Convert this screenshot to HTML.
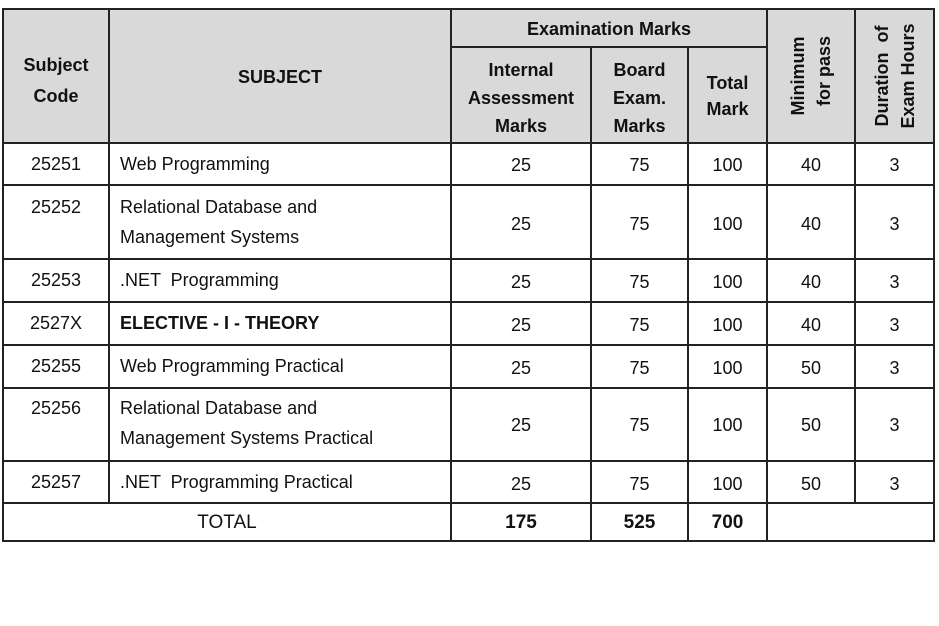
<!DOCTYPE html>
<html><head><meta charset="utf-8"><style>
body{margin:0;background:#fff;width:939px;height:626px;position:relative;overflow:hidden;font-family:"Liberation Sans",Arial,sans-serif;color:#111}
.t{position:absolute;text-align:center;font-size:18px;line-height:22px}
.b{font-weight:bold}
.l{text-align:left}
.h{position:absolute;background:#222}
.r{position:absolute;width:120px;height:56px;line-height:26px;text-align:center;font-size:18px;font-weight:bold;white-space:nowrap;transform:rotate(-90deg);padding-top:2px;box-sizing:border-box}
</style></head><body>
<div style="position:absolute;left:3px;top:9px;width:931px;height:134px;background:#d9d9d9"></div>
<div class="h" style="left:3px;top:8px;width:932px;height:2px"></div>
<div class="h" style="left:451px;top:46px;width:317px;height:2px"></div>
<div class="h" style="left:3px;top:142px;width:932px;height:2px"></div>
<div class="h" style="left:3px;top:184px;width:932px;height:2px"></div>
<div class="h" style="left:3px;top:258px;width:932px;height:2px"></div>
<div class="h" style="left:3px;top:301px;width:932px;height:2px"></div>
<div class="h" style="left:3px;top:344px;width:932px;height:2px"></div>
<div class="h" style="left:3px;top:387px;width:932px;height:2px"></div>
<div class="h" style="left:3px;top:460px;width:932px;height:2px"></div>
<div class="h" style="left:3px;top:502px;width:932px;height:2px"></div>
<div class="h" style="left:3px;top:540px;width:932px;height:2px"></div>
<div class="h" style="left:2px;top:8px;width:2px;height:534px"></div>
<div class="h" style="left:108px;top:8px;width:2px;height:495px"></div>
<div class="h" style="left:450px;top:8px;width:2px;height:534px"></div>
<div class="h" style="left:590px;top:46px;width:2px;height:496px"></div>
<div class="h" style="left:687px;top:46px;width:2px;height:496px"></div>
<div class="h" style="left:766px;top:8px;width:2px;height:534px"></div>
<div class="h" style="left:854px;top:8px;width:2px;height:495px"></div>
<div class="h" style="left:933px;top:8px;width:2px;height:534px"></div>
<div class="t b" style="left:3px;top:50px;width:106px;line-height:31px">Subject<br>Code</div>
<div class="t b" style="left:109px;top:66px;width:342px">SUBJECT</div>
<div class="t b" style="left:451px;top:18px;width:316px">Examination Marks</div>
<div class="t b" style="left:451px;top:56px;width:140px;line-height:28px">Internal<br>Assessment<br>Marks</div>
<div class="t b" style="left:591px;top:56px;width:97px;line-height:28px">Board<br>Exam.<br>Marks</div>
<div class="t b" style="left:688px;top:70px;width:79px;line-height:26px">Total<br>Mark</div>
<div class="r" style="left:751px;top:48px">Minimum<br>&nbsp;&nbsp;for pass</div>
<div class="r" style="left:835px;top:48px">Duration &nbsp;of<br>Exam Hours</div>
<div class="t" style="left:3px;top:153px;width:106px">25251</div>
<div class="t l" style="left:120px;top:153px">Web Programming</div>
<div class="t" style="left:3px;top:196px;width:106px">25252</div>
<div class="t l" style="left:120px;top:192px;line-height:30px">Relational Database and<br>Management Systems</div>
<div class="t" style="left:3px;top:269px;width:106px">25253</div>
<div class="t l" style="left:120px;top:269px">.NET &nbsp;Programming</div>
<div class="t" style="left:3px;top:312px;width:106px">2527X</div>
<div class="t l b" style="left:120px;top:312px">ELECTIVE - I - THEORY</div>
<div class="t" style="left:3px;top:355px;width:106px">25255</div>
<div class="t l" style="left:120px;top:355px">Web Programming Practical</div>
<div class="t" style="left:3px;top:397px;width:106px">25256</div>
<div class="t l" style="left:120px;top:393px;line-height:30px">Relational Database and<br>Management Systems Practical</div>
<div class="t" style="left:3px;top:471px;width:106px">25257</div>
<div class="t l" style="left:120px;top:471px">.NET &nbsp;Programming Practical</div>

<div class="t" style="left:451px;top:154px;width:140px">25</div><div class="t" style="left:591px;top:154px;width:97px">75</div><div class="t" style="left:688px;top:154px;width:79px">100</div><div class="t" style="left:767px;top:154px;width:88px">40</div><div class="t" style="left:855px;top:154px;width:79px">3</div>
<div class="t" style="left:451px;top:213px;width:140px">25</div><div class="t" style="left:591px;top:213px;width:97px">75</div><div class="t" style="left:688px;top:213px;width:79px">100</div><div class="t" style="left:767px;top:213px;width:88px">40</div><div class="t" style="left:855px;top:213px;width:79px">3</div>
<div class="t" style="left:451px;top:271px;width:140px">25</div><div class="t" style="left:591px;top:271px;width:97px">75</div><div class="t" style="left:688px;top:271px;width:79px">100</div><div class="t" style="left:767px;top:271px;width:88px">40</div><div class="t" style="left:855px;top:271px;width:79px">3</div>
<div class="t" style="left:451px;top:314px;width:140px">25</div><div class="t" style="left:591px;top:314px;width:97px">75</div><div class="t" style="left:688px;top:314px;width:79px">100</div><div class="t" style="left:767px;top:314px;width:88px">40</div><div class="t" style="left:855px;top:314px;width:79px">3</div>
<div class="t" style="left:451px;top:357px;width:140px">25</div><div class="t" style="left:591px;top:357px;width:97px">75</div><div class="t" style="left:688px;top:357px;width:79px">100</div><div class="t" style="left:767px;top:357px;width:88px">50</div><div class="t" style="left:855px;top:357px;width:79px">3</div>
<div class="t" style="left:451px;top:414px;width:140px">25</div><div class="t" style="left:591px;top:414px;width:97px">75</div><div class="t" style="left:688px;top:414px;width:79px">100</div><div class="t" style="left:767px;top:414px;width:88px">50</div><div class="t" style="left:855px;top:414px;width:79px">3</div>
<div class="t" style="left:451px;top:473px;width:140px">25</div><div class="t" style="left:591px;top:473px;width:97px">75</div><div class="t" style="left:688px;top:473px;width:79px">100</div><div class="t" style="left:767px;top:473px;width:88px">50</div><div class="t" style="left:855px;top:473px;width:79px">3</div>

<div class="t" style="left:3px;top:512px;width:448px;font-size:19px">TOTAL</div>
<div class="t b" style="left:451px;top:512px;width:140px;font-size:19px">175</div>
<div class="t b" style="left:591px;top:512px;width:97px;font-size:19px">525</div>
<div class="t b" style="left:688px;top:512px;width:79px;font-size:19px">700</div>
</body></html>
